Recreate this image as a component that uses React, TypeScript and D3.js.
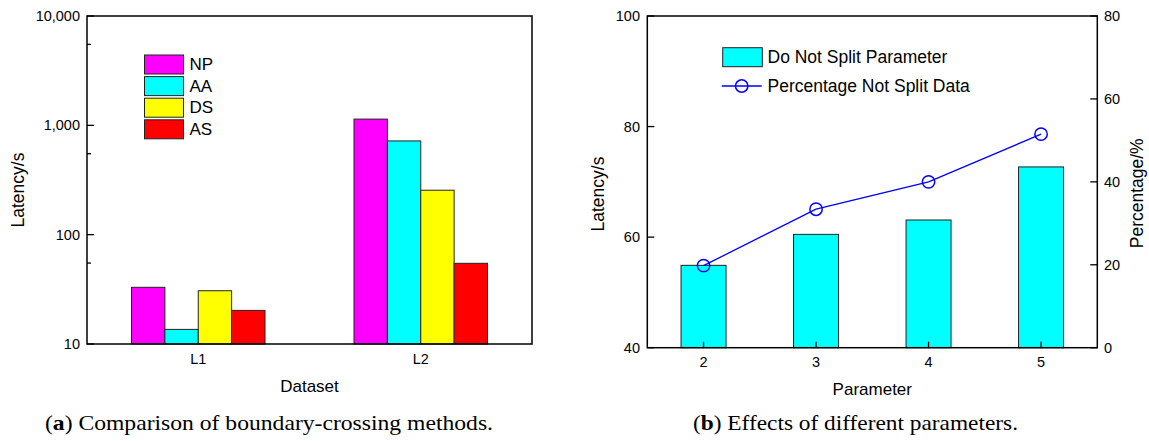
import React from 'react';
import * as d3 from 'd3';

// left panel: latency per dataset for each boundary-crossing method
const datasets = ['L1', 'L2'];
const methods = ['NP', 'AA', 'DS', 'AS'];
const methodColors = ['#ff00ff', '#00ffff', '#ffff00', '#ff0000'];
const npLatency = [33, 1140];
const aaLatency = [13.6, 720];
const dsLatency = [30.7, 255];
const asLatency = [20.3, 54.7];
const logTicks = [10, 100, 1000, 10000];
const logMinorTicks = [55, 550, 5500];

// right panel: parameter effects
const parameters = [2, 3, 4, 5];
const notSplitLatency = [54.9, 60.5, 63.1, 72.7];
const notSplitPercent = [19.8, 33.4, 40.0, 51.5];
const latencyTicks = [40, 60, 80, 100];
const percentTicks = [0, 20, 40, 60, 80];

const sans = '"Liberation Sans", Arial, sans-serif';
const serif = '"Liberation Serif", "Times New Roman", serif';

const LeftChart = () => {
    const x0 = 87, x1 = 532, top = 16, bottom = 344;
    const series = [npLatency, aaLatency, dsLatency, asLatency];

    const x = d3.scaleBand().domain(datasets).range([x0, x1]).paddingInner(0.4).paddingOuter(0.2);
    const xm = d3.scaleBand().domain(methods).range([0, x.bandwidth()]);
    const y = d3.scaleLog().domain([10, 10000]).range([bottom, top]);
    const fmt = d3.format(',');

    return (
        <g>
            {datasets.map((ds, i) => (
                <g key={ds} transform={`translate(${x(ds)},0)`}>
                    {methods.map((m, j) => (
                        <rect
                            key={m}
                            x={xm(m)}
                            y={y(series[j][i])}
                            width={xm.bandwidth()}
                            height={bottom - y(series[j][i])}
                            fill={methodColors[j]}
                            stroke="#222"
                            strokeWidth={1}
                        />
                    ))}
                </g>
            ))}

            {/* frame */}
            <rect x={x0} y={top} width={x1 - x0} height={bottom - top} fill="none" stroke="#000" strokeWidth={1.5} />

            {/* y ticks, pointing inward */}
            {logTicks.map(t => (
                <g key={t}>
                    <line x1={x0} x2={x0 + 7} y1={y(t)} y2={y(t)} stroke="#000" strokeWidth={1.3} />
                    <text x={80} y={y(t)} textAnchor="end" dominantBaseline="central" fontSize={14.5} fontFamily={sans}>
                        {fmt(t)}
                    </text>
                </g>
            ))}
            {logMinorTicks.map(t => (
                <line key={t} x1={x0} x2={x0 + 4} y1={y(t)} y2={y(t)} stroke="#000" strokeWidth={1.3} />
            ))}

            {datasets.map(ds => (
                <text key={ds} x={x(ds) + x.bandwidth() / 2} y={363.5} textAnchor="middle" fontSize={14.5} fontFamily={sans}>
                    {ds}
                </text>
            ))}

            <text x={(x0 + x1) / 2} y={391.5} textAnchor="middle" fontSize={17} fontFamily={sans}>Dataset</text>
            <text transform="translate(24,190) rotate(-90)" textAnchor="middle" fontSize={17.5} fontFamily={sans}>Latency/s</text>

            {/* legend */}
            {methods.map((m, j) => (
                <g key={m} transform={`translate(144.5,${55 + j * 21.6})`}>
                    <rect width={39} height={19} fill={methodColors[j]} stroke="#222" strokeWidth={1} />
                    <text x={45} y={9.8} dominantBaseline="central" fontSize={17} fontFamily={sans}>{m}</text>
                </g>
            ))}

            <text x={45} y={430} fontSize={21} fontFamily={serif} textLength={448} lengthAdjust="spacingAndGlyphs">
                (<tspan fontWeight="bold">a</tspan>) Comparison of boundary-crossing methods.
            </text>
        </g>
    );
};

const RightChart = () => {
    const x0 = 647.3, x1 = 1097.3, top = 16, bottom = 347.7;

    const x = d3.scaleLinear().domain([1.5, 5.5]).range([x0, x1]);
    const yL = d3.scaleLinear().domain([40, 100]).range([bottom, top]);
    const yR = d3.scaleLinear().domain([0, 80]).range([bottom, top]);
    const barW = x(2.2) - x(1.8);

    const line = d3.line<number>()
        .x((_, i) => x(parameters[i]))
        .y(d => yR(d));

    return (
        <g>
            {parameters.map((p, i) => (
                <rect
                    key={p}
                    x={x(p) - barW / 2}
                    y={yL(notSplitLatency[i])}
                    width={barW}
                    height={bottom - yL(notSplitLatency[i])}
                    fill="#00ffff"
                    stroke="#222"
                    strokeWidth={1}
                />
            ))}

            <path d={line(notSplitPercent) || ''} fill="none" stroke="#0000ff" strokeWidth={1.3} />
            {notSplitPercent.map((v, i) => (
                <circle key={i} cx={x(parameters[i])} cy={yR(v)} r={6.2} fill="none" stroke="#0000ff" strokeWidth={1.5} />
            ))}

            <rect x={x0} y={top} width={x1 - x0} height={bottom - top} fill="none" stroke="#000" strokeWidth={1.5} />

            {latencyTicks.map(t => (
                <g key={t}>
                    <line x1={x0} x2={x0 + 7} y1={yL(t)} y2={yL(t)} stroke="#000" strokeWidth={1.3} />
                    <text x={640} y={yL(t)} textAnchor="end" dominantBaseline="central" fontSize={14.5} fontFamily={sans}>{t}</text>
                </g>
            ))}
            {percentTicks.map(t => (
                <g key={t}>
                    <line x1={x1} x2={x1 - 7} y1={yR(t)} y2={yR(t)} stroke="#000" strokeWidth={1.3} />
                    <text x={1104} y={yR(t)} dominantBaseline="central" fontSize={14.5} fontFamily={sans}>{t}</text>
                </g>
            ))}
            {parameters.map(p => (
                <g key={p}>
                    <line x1={x(p)} x2={x(p)} y1={bottom} y2={bottom - 6} stroke="#000" strokeWidth={1.3} />
                    <text x={x(p)} y={366.7} textAnchor="middle" fontSize={14.5} fontFamily={sans}>{p}</text>
                </g>
            ))}

            <text x={(x0 + x1) / 2} y={395} textAnchor="middle" fontSize={17} fontFamily={sans}>Parameter</text>
            <text transform="translate(604,194) rotate(-90)" textAnchor="middle" fontSize={17.5} fontFamily={sans}>Latency/s</text>
            <text transform="translate(1142.5,193.3) rotate(-90)" textAnchor="middle" fontSize={17.5} fontFamily={sans}>Percentage/%</text>

            {/* legend */}
            <rect x={722.7} y={47.7} width={39.6} height={19} fill="#00ffff" stroke="#222" strokeWidth={1} />
            <text x={767.5} y={57.2} dominantBaseline="central" fontSize={17.5} fontFamily={sans}>Do Not Split Parameter</text>
            <line x1={721.7} x2={761.7} y1={86} y2={86} stroke="#0000ff" strokeWidth={1.3} />
            <circle cx={741.7} cy={86} r={6.2} fill="none" stroke="#0000ff" strokeWidth={1.5} />
            <text x={767.5} y={86} dominantBaseline="central" fontSize={17.5} fontFamily={sans}>Percentage Not Split Data</text>

            <text x={693} y={430} fontSize={21} fontFamily={serif} textLength={325} lengthAdjust="spacingAndGlyphs">
                (<tspan fontWeight="bold">b</tspan>) Effects of different parameters.
            </text>
        </g>
    );
};

export default function App() {
    return (
        <svg
            width={1149}
            height={441}
            style={{ position: 'absolute', left: 0, top: 0, background: '#fff' }}
        >
            <rect width={1149} height={441} fill="#fff" />
            <LeftChart />
            <RightChart />
        </svg>
    );
}
